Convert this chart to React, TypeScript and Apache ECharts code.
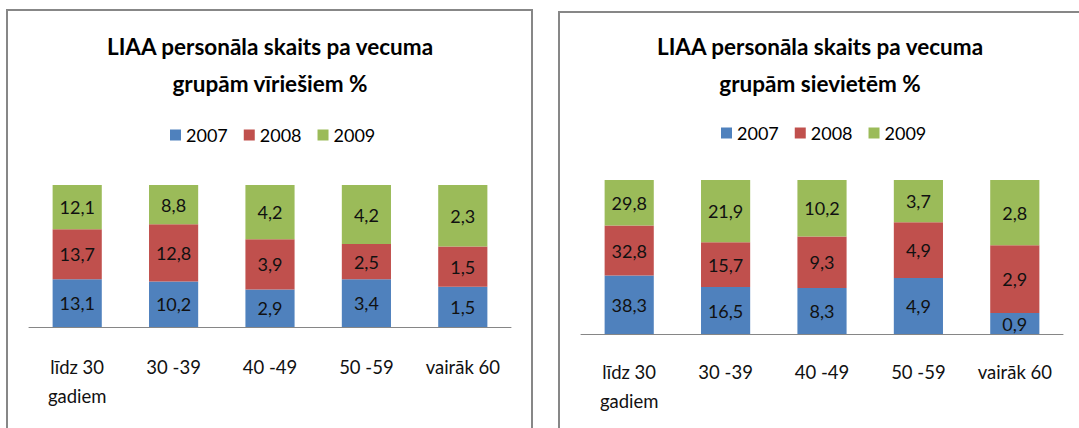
import React, { useEffect, useRef } from "react";
import * as echarts from "echarts";

const categories = ["līdz 30\ngadiem", "30 -39", "40 -49", "50 -59", "vairāk 60"];
const years = ["2007", "2008", "2009"];
const men2007 = [13.1, 10.2, 2.9, 3.4, 1.5];
const men2008 = [13.7, 12.8, 3.9, 2.5, 1.5];
const men2009 = [12.1, 8.8, 4.2, 4.2, 2.3];
const women2007 = [38.3, 16.5, 8.3, 4.9, 0.9];
const women2008 = [32.8, 15.7, 9.3, 4.9, 2.9];
const women2009 = [29.8, 21.9, 10.2, 3.7, 2.8];
const titleMen = "LIAA personāla skaits pa vecuma\ngrupām vīriešiem %";
const titleWomen = "LIAA personāla skaits pa vecuma\ngrupām sievietēm %";

const COLORS = ["#4F81BD", "#C0504D", "#9BBB59"];
const FONT = "Lato, 'Liberation Sans', sans-serif";

function pctSeries(groups: number[][], gridIndex: number) {
  const totals = groups[0].map((_, i) => groups.reduce((s, g) => s + g[i], 0));
  return groups.map((g, si) => ({
    name: years[si],
    type: "bar",
    stack: "s" + gridIndex,
    xAxisIndex: gridIndex,
    yAxisIndex: gridIndex,
    barWidth: "51%",
    itemStyle: { color: COLORS[si] },
    data: g.map((v, i) => (v / totals[i]) * 100),
    label: {
      show: true,
      position: "inside",
      color: "#111",
      fontFamily: FONT,
      fontSize: 18,
      formatter: (p: any) => g[p.dataIndex].toFixed(1).replace(".", ","),
    },
  }));
}

export default function App() {
  const ref = useRef<HTMLDivElement>(null);
  useEffect(() => {
    if (!ref.current) return;
    const chart = echarts.init(ref.current, null, { renderer: "svg" });
    const titleStyle = {
      fontFamily: FONT,
      fontSize: 22.5,
      fontWeight: "bold",
      color: "#000",
      lineHeight: 37,
    };
    const legendBase = {
      data: years,
      icon: "rect",
      itemWidth: 11,
      itemHeight: 11,
      itemGap: 16,
      padding: 0,
      textStyle: { fontFamily: FONT, fontSize: 18, color: "#000" },
    };
    const xBase = {
      type: "category",
      data: categories,
      axisTick: { show: false },
      axisLine: { lineStyle: { color: "#868686", width: 1 } },
      axisLabel: {
        fontFamily: FONT,
        fontSize: 18.5,
        color: "#111",
        lineHeight: 29,
        interval: 0,
      },
    };
    const yBase = { type: "value", min: 0, max: 100, show: false, splitLine: { show: false } };
    chart.setOption({
      animation: false,
      backgroundColor: "#fff",
      title: [
        { text: titleMen, left: 270, top: 28, textAlign: "center", padding: 0, textStyle: titleStyle },
        { text: titleWomen, left: 820, top: 28, textAlign: "center", padding: 0, textStyle: titleStyle },
      ],
      legend: [
        { ...legendBase, left: 170, top: 126 },
        { ...legendBase, left: 721, top: 124 },
      ],
      grid: [
        { left: 29, width: 482, top: 185, height: 142 },
        { left: 581, width: 482, top: 180, height: 154 },
      ],
      xAxis: [
        { ...xBase, gridIndex: 0, axisLabel: { ...xBase.axisLabel, margin: 25 } },
        { ...xBase, gridIndex: 1, axisLabel: { ...xBase.axisLabel, margin: 23 } },
      ],
      yAxis: [
        { ...yBase, gridIndex: 0 },
        { ...yBase, gridIndex: 1 },
      ],
      graphic: [
        {
          type: "rect",
          shape: { x: 7, y: 10, width: 525, height: 440 },
          style: { fill: "none", stroke: "#878787", lineWidth: 2 },
          silent: true,
        },
        {
          type: "rect",
          shape: { x: 559, y: 12, width: 540, height: 440 },
          style: { fill: "none", stroke: "#878787", lineWidth: 2 },
          silent: true,
        },
      ],
      series: [
        ...pctSeries([men2007, men2008, men2009], 0),
        ...pctSeries([women2007, women2008, women2009], 1),
      ],
    });
    return () => chart.dispose();
  }, []);
  return (
    <div
      ref={ref}
      style={{ position: "absolute", left: 0, top: 0, width: 1079, height: 428, background: "#fff" }}
    />
  );
}
